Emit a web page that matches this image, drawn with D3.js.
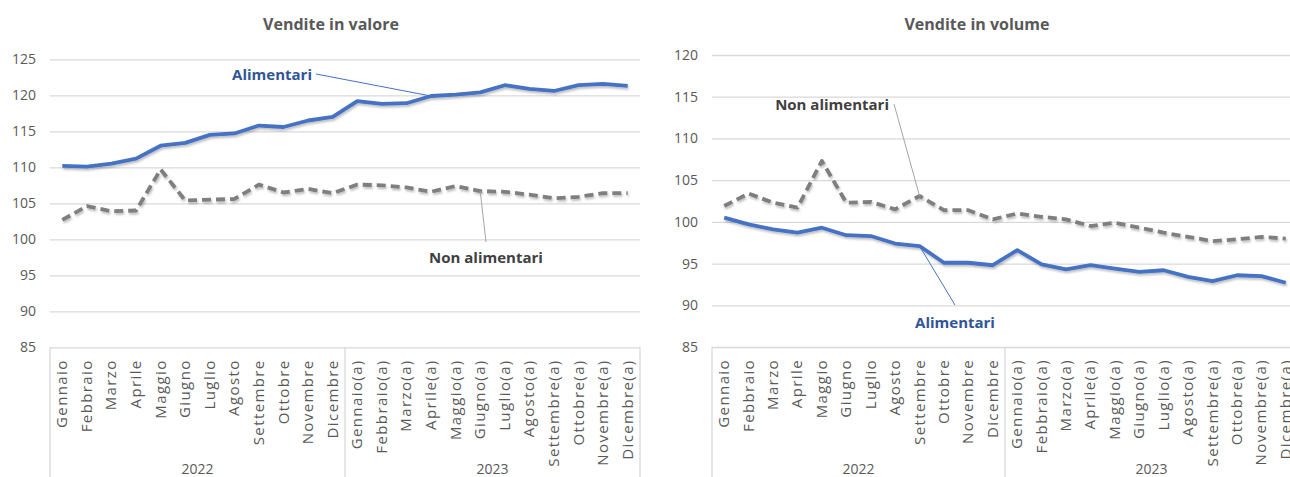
<!DOCTYPE html>
<html>
<head>
<meta charset="utf-8">
<script src="https://cdn.jsdelivr.net/npm/d3@7"></script>
<style>
  body { margin: 0; background: #ffffff; }
  svg { display: block; }
</style>
</head>
<body>
<script>
// months on the category axis
var months2022 = ["Gennaio", "Febbraio", "Marzo", "Aprile", "Maggio", "Giugno",
  "Luglio", "Agosto", "Settembre", "Ottobre", "Novembre", "Dicembre"];
var months2023 = ["Gennaio(a)", "Febbraio(a)", "Marzo(a)", "Aprile(a)", "Maggio(a)", "Giugno(a)",
  "Luglio(a)", "Agosto(a)", "Settembre(a)", "Ottobre(a)", "Novembre(a)", "Dicembre(a)"];
var years = ["2022", "2023"];

// Vendite in valore
var valoreAlimentari = [110.2, 110.1, 110.5, 111.2, 113.0, 113.4, 114.5, 114.7, 115.8, 115.6, 116.5, 117.0,
  119.2, 118.8, 118.9, 119.9, 120.1, 120.4, 121.4, 120.9, 120.6, 121.4, 121.6, 121.3];
var valoreNonAlimentari = [102.7, 104.6, 103.9, 104.0, 109.7, 105.4, 105.5, 105.6, 107.6, 106.5, 107.0, 106.4,
  107.6, 107.5, 107.2, 106.6, 107.4, 106.7, 106.6, 106.2, 105.7, 105.9, 106.4, 106.4];

// Vendite in volume
var volumeAlimentari = [100.5, 99.7, 99.1, 98.7, 99.3, 98.4, 98.3, 97.4, 97.1, 95.1, 95.1, 94.8,
  96.6, 94.9, 94.3, 94.8, 94.4, 94.0, 94.2, 93.4, 92.9, 93.6, 93.5, 92.7];
var volumeNonAlimentari = [101.9, 103.4, 102.3, 101.7, 107.3, 102.3, 102.4, 101.5, 103.1, 101.4, 101.4, 100.3,
  101.0, 100.6, 100.3, 99.5, 99.9, 99.3, 98.7, 98.2, 97.7, 97.9, 98.2, 98.0];

var valoreTicks = [85, 90, 95, 100, 105, 110, 115, 120, 125];
var volumeTicks = [85, 90, 95, 100, 105, 110, 115, 120];

var w = 1290;
var h = 477;

var font = "'Open Sans', 'Noto Sans', sans-serif";
var textColor = "#595959";
var gridColor = "#d9d9d9";
var blue = "#4472c4";
var grey = "#7f7f7f";

var categories = months2022.concat(months2023);

var svg = d3.select("body")
            .append("svg")
            .attr("width", w)
            .attr("height", h);

// soft shadow under the lines
var filter = svg.append("defs").append("filter")
                .attr("id", "shadow")
                .attr("x", "-5%").attr("y", "-20%")
                .attr("width", "110%").attr("height", "140%");
filter.append("feDropShadow")
      .attr("dx", 1).attr("dy", 2)
      .attr("stdDeviation", 1.3)
      .attr("flood-color", "#000")
      .attr("flood-opacity", 0.25);

// draw one panel
function drawPanel(opt) {
  var g = svg.append("g");

  var xScale = d3.scaleBand()
                 .domain(categories)
                 .range([opt.left, opt.right]);

  var yScale = d3.scaleLinear()
                 .domain([opt.ticks[0], opt.ticks[opt.ticks.length - 1]])
                 .range([opt.bottom, opt.top]);

  // title
  g.append("text")
   .attr("x", opt.titleX)
   .attr("y", 30)
   .attr("text-anchor", "middle")
   .attr("font-family", font)
   .attr("font-size", "16px")
   .attr("font-weight", "bold")
   .attr("fill", textColor)
   .text(opt.title);

  // y axis with gridlines
  var yAxis = d3.axisLeft(yScale)
                .tickValues(opt.ticks)
                .tickSize(-(opt.right - opt.left))
                .tickPadding(14);

  var yG = g.append("g")
            .attr("transform", "translate(" + opt.left + ",0)")
            .call(yAxis);
  yG.select(".domain").remove();
  yG.selectAll(".tick line").attr("stroke", gridColor).attr("stroke-width", 1.3);
  yG.selectAll(".tick text")
    .attr("font-family", font)
    .attr("font-size", "14px")
    .attr("fill", textColor);

  // category box lines (start, year split, end)
  var splits = [opt.left, xScale(months2023[0]), opt.right];
  g.selectAll(".split")
   .data(splits)
   .enter()
   .append("line")
   .attr("x1", function(d) { return d; })
   .attr("x2", function(d) { return d; })
   .attr("y1", opt.bottom)
   .attr("y2", h)
   .attr("stroke", gridColor)
   .attr("stroke-width", 1.3);

  // month labels (spaced out like the original)
  g.selectAll(".month")
   .data(categories)
   .enter()
   .append("text")
   .attr("transform", function(d) {
     return "translate(" + (xScale(d) + xScale.bandwidth() / 2 + 5) + "," + (opt.bottom + 12) + ") rotate(-90)";
   })
   .attr("text-anchor", "end")
   .attr("font-family", font)
   .attr("font-size", "15px")
   .attr("letter-spacing", "1.4px")
   .attr("fill", textColor)
   .text(function(d) { return d; });

  // year labels
  g.selectAll(".year")
   .data(years)
   .enter()
   .append("text")
   .attr("x", function(d, i) { return (splits[i] + splits[i + 1]) / 2; })
   .attr("y", 474)
   .attr("text-anchor", "middle")
   .attr("font-family", font)
   .attr("font-size", "14px")
   .attr("fill", textColor)
   .text(function(d) { return d; });

  var line = d3.line()
               .x(function(d, i) { return xScale(categories[i]) + xScale.bandwidth() / 2; })
               .y(function(d) { return yScale(d); });

  // non alimentari dashed line
  g.append("path")
   .datum(opt.non)
   .attr("d", line)
   .attr("fill", "none")
   .attr("stroke", grey)
   .attr("stroke-width", 3.8)
   .attr("stroke-dasharray", "9,5")
   .attr("stroke-linejoin", "round")
   .attr("filter", "url(#shadow)");

  // alimentari solid line
  g.append("path")
   .datum(opt.ali)
   .attr("d", line)
   .attr("fill", "none")
   .attr("stroke", blue)
   .attr("stroke-width", 3.8)
   .attr("stroke-linejoin", "round")
   .attr("filter", "url(#shadow)");

  // labels with leader lines
  opt.labels.forEach(function(lab) {
    var values = lab.series === "ali" ? opt.ali : opt.non;
    var px = xScale(categories[lab.index]) + xScale.bandwidth() / 2;
    var py = yScale(values[lab.index]);

    g.append("line")
     .attr("x1", lab.lineX)
     .attr("y1", lab.lineY)
     .attr("x2", px)
     .attr("y2", py)
     .attr("stroke", lab.series === "ali" ? blue : "#a6a6a6")
     .attr("stroke-width", 1);

    g.append("text")
     .attr("x", lab.x)
     .attr("y", lab.y)
     .attr("text-anchor", lab.anchor)
     .attr("font-family", font)
     .attr("font-size", "15px")
     .attr("font-weight", "bold")
     .attr("fill", lab.series === "ali" ? "#2f5597" : "#404040")
     .text(lab.text);
  });
}

drawPanel({
  title: "Vendite in valore",
  titleX: 331,
  left: 50, right: 640, top: 59.3, bottom: 347.3,
  ticks: valoreTicks,
  ali: valoreAlimentari,
  non: valoreNonAlimentari,
  labels: [
    {series: "ali", text: "Alimentari", index: 15, x: 312, y: 80, anchor: "end", lineX: 316, lineY: 74},
    {series: "non", text: "Non alimentari", index: 17, x: 486, y: 263, anchor: "middle", lineX: 486, lineY: 242}
  ]
});

drawPanel({
  title: "Vendite in volume",
  titleX: 977,
  left: 712, right: 1298, top: 55, bottom: 347,
  ticks: volumeTicks,
  ali: volumeAlimentari,
  non: volumeNonAlimentari,
  labels: [
    {series: "non", text: "Non alimentari", index: 8, x: 889, y: 110, anchor: "end", lineX: 894, lineY: 104},
    {series: "ali", text: "Alimentari", index: 8, x: 955, y: 328, anchor: "middle", lineX: 955, lineY: 305}
  ]
});
</script>
</body>
</html>
